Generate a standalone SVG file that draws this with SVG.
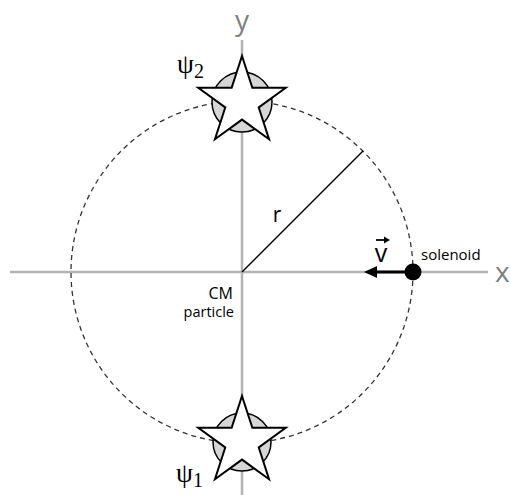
<svg xmlns="http://www.w3.org/2000/svg" width="510" height="495" viewBox="0 0 510 495">
<style>
.axis{stroke:#b3b3b3;stroke-width:2.5;fill:none}
.axlab{font-family:"Open Sans","DejaVu Sans",sans-serif;font-size:28px;fill:#808080}
.lab{font-family:"Open Sans","Liberation Sans",sans-serif;fill:#000}
.psi{font-family:"Liberation Serif","DejaVu Serif",serif;fill:#000}
.star{fill:#fff;stroke:#000;stroke-width:2;stroke-linejoin:miter}
.halo{fill:#d6d6d6;stroke:#000;stroke-width:1.5}
</style>
<defs>
<polygon id="starShape" class="star" points="0,-46 10.35,-14.24 43.75,-14.21 16.74,5.44 27.04,37.21 0,17.6 -27.04,37.21 -16.74,5.44 -43.75,-14.21 -10.35,-14.24"/>
</defs>
<g id="axes">
<line class="axis" x1="10" y1="272" x2="488" y2="272"/>
<line class="axis" x1="242" y1="40" x2="242" y2="495"/>
<text class="axlab" x="242" y="30" text-anchor="middle">y</text>
<text class="axlab" x="495" y="282">x</text>
</g>
<g id="connectors">
<circle cx="242" cy="272" r="171" fill="none" stroke="#333" stroke-width="1.3" stroke-dasharray="5,4"/>
<line x1="242" y1="272" x2="363" y2="151" stroke="#000" stroke-width="1.5"/>
<line x1="412" y1="272" x2="374" y2="272" stroke="#000" stroke-width="3"/>
<polygon points="364,272 377,266 377,278" fill="#000"/>
</g>
<g id="psi2">
<circle class="halo" cx="242" cy="102" r="30"/>
<use href="#starShape" x="242" y="102"/>
<text class="psi" x="177" y="73" font-size="27">ψ<tspan font-size="20" dy="5">2</tspan></text>
</g>
<g id="psi1">
<circle class="halo" cx="242" cy="442" r="29"/>
<use href="#starShape" x="242" y="442"/>
<text class="psi" x="176" y="482" font-size="27">ψ<tspan font-size="20" dy="5">1</tspan></text>
</g>
<g id="cm">
<text class="lab" x="233" y="299" font-size="16" text-anchor="end">CM</text>
<text class="lab" x="234" y="317" font-size="14.5" text-anchor="end">particle</text>
</g>
<g id="solenoid">
<circle cx="413" cy="272" r="8.5" fill="#000"/>
<text class="lab" x="421" y="260" font-size="15">solenoid</text>
</g>
<g id="labels">
<text class="lab" x="277" y="222" font-size="21" text-anchor="middle">r</text>
<text class="lab" x="381" y="262" font-size="25" text-anchor="middle">v</text>
<line x1="376" y1="240" x2="388" y2="240" stroke="#000" stroke-width="1.8"/>
<polygon points="390,240 384,236.5 384,243.5" fill="#000"/>
</g>
</svg>
